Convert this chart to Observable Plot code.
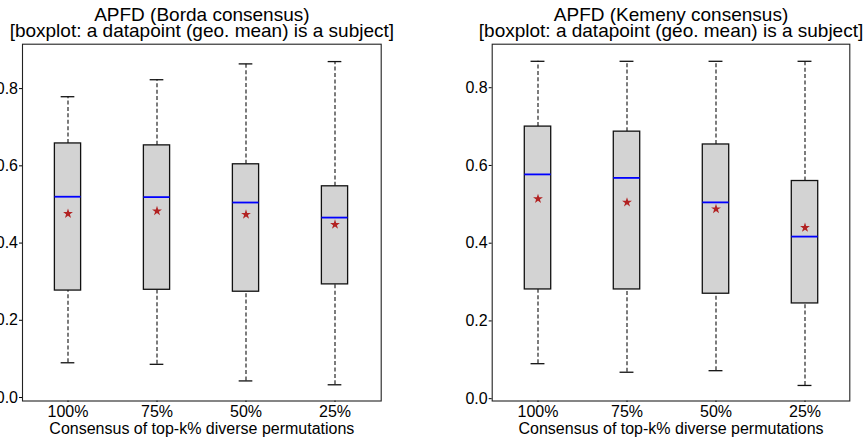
<!DOCTYPE html>
<html>
<head>
<meta charset="utf-8">
<script src="https://cdn.jsdelivr.net/npm/d3@7"></script>
<script src="https://cdn.jsdelivr.net/npm/@observablehq/plot@0.6"></script>
<style>
  html, body { margin: 0; padding: 0; background: white; }
  #wrap { display: flex; width: 868px; height: 439px; overflow: hidden; }
  #wrap svg { overflow: visible; }
</style>
</head>
<body>
<div id="wrap"></div>
<script>
// ---- Data ----
const categories = ["100%", "75%", "50%", "25%"];

const bordaTitle = ["APFD (Borda consensus)", "[boxplot: a datapoint (geo. mean) is a subject]"];
const bordaWhiskerLow  = [0.090, 0.086, 0.043, 0.033];
const bordaQ1          = [0.277, 0.279, 0.274, 0.293];
const bordaMedian      = [0.520, 0.519, 0.505, 0.466];
const bordaQ3          = [0.658, 0.653, 0.604, 0.547];
const bordaWhiskerHigh = [0.779, 0.823, 0.864, 0.870];
const bordaMean        = [0.476, 0.483, 0.474, 0.448];

const kemenyTitle = ["APFD (Kemeny consensus)", "[boxplot: a datapoint (geo. mean) is a subject]"];
const kemenyWhiskerLow  = [0.090, 0.068, 0.072, 0.034];
const kemenyQ1          = [0.281, 0.281, 0.270, 0.245];
const kemenyMedian      = [0.577, 0.568, 0.505, 0.417];
const kemenyQ3          = [0.700, 0.687, 0.654, 0.560];
const kemenyWhiskerHigh = [0.868, 0.868, 0.868, 0.868];
const kemenyMean        = [0.514, 0.505, 0.488, 0.440];

const yTicks = [0.0, 0.2, 0.4, 0.6, 0.8];
const xLabel = "Consensus of top-k% diverse permutations";

function rows(lo, q1, med, q3, hi, mean) {
  return categories.map((c, i) => ({cat: c, lo: lo[i], q1: q1[i], med: med[i], q3: q3[i], hi: hi[i], mean: mean[i]}));
}

function panel(data, title, opts) {
  const step = (434 - opts.marginLeft - opts.marginRight) / categories.length;
  const boxInset = step * 0.35;
  const capInset = step * 0.42;
  return Plot.plot({
    width: 434,
    height: 439,
    marginLeft: opts.marginLeft,
    marginRight: opts.marginRight,
    marginTop: 43.7,
    marginBottom: 38.5,
    style: {fontFamily: "'Liberation Sans', Arial, sans-serif", fontSize: "16px", color: "#000", background: "white"},
    x: {type: "band", domain: categories, padding: 0, label: null, tickSize: 1.5, tickPadding: 3.5},
    y: {domain: opts.yDomain, ticks: yTicks, tickFormat: d3.format(".1f"), label: null, tickSize: 3, tickPadding: 1.5},
    marks: [
      Plot.ruleX(data, {x: "cat", y1: "q3", y2: "hi", stroke: "#111", strokeWidth: 1.1, strokeDasharray: "4,2.4"}),
      Plot.ruleX(data, {x: "cat", y1: "lo", y2: "q1", stroke: "#111", strokeWidth: 1.1, strokeDasharray: "4,2.4"}),
      Plot.tickY(data, {x: "cat", y: "hi", stroke: "#111", strokeWidth: 1.3, insetLeft: capInset, insetRight: capInset}),
      Plot.tickY(data, {x: "cat", y: "lo", stroke: "#111", strokeWidth: 1.3, insetLeft: capInset, insetRight: capInset}),
      Plot.rect(data, {x: "cat", y1: "q1", y2: "q3", fill: "#d3d3d3", stroke: "#111", strokeWidth: 1.3, insetLeft: boxInset, insetRight: boxInset}),
      Plot.tickY(data, {x: "cat", y: "med", stroke: "#0000ff", strokeWidth: 1.8, insetLeft: boxInset, insetRight: boxInset}),
      Plot.dot(data, {x: "cat", y: "mean", symbol: "star", r: 3.1, fill: "#b22222", stroke: "none"}),
      Plot.frame({stroke: "#222", strokeWidth: 1.1}),
      Plot.text([title[0]], {text: d => d, frameAnchor: "top", lineAnchor: "bottom", dy: -23, fontSize: 19}),
      Plot.text([title[1]], {text: d => d, frameAnchor: "top", lineAnchor: "bottom", dy: -7.5, fontSize: 19}),
      Plot.text([xLabel], {text: d => d, frameAnchor: "bottom", lineAnchor: "bottom", dy: 33, fontSize: 16})
    ]
  });
}

const wrap = document.getElementById("wrap");
wrap.appendChild(panel(
  rows(bordaWhiskerLow, bordaQ1, bordaMedian, bordaQ3, bordaWhiskerHigh, bordaMean),
  bordaTitle, {marginLeft: 22, marginRight: 53.3, yDomain: [-0.009, 0.915]}));
wrap.appendChild(panel(
  rows(kemenyWhiskerLow, kemenyQ1, kemenyMedian, kemenyQ3, kemenyWhiskerHigh, kemenyMean),
  kemenyTitle, {marginLeft: 57.7, marginRight: 18.7, yDomain: [-0.006, 0.912]}));
</script>
</body>
</html>
